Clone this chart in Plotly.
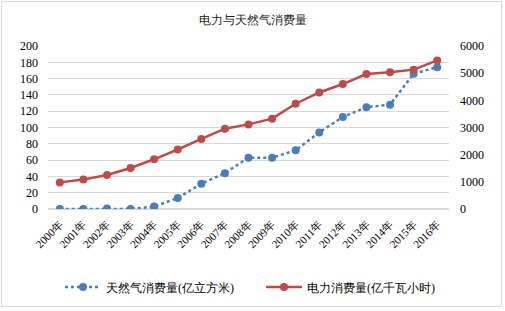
import plotly.graph_objects as go

years = [f"{y}年" for y in range(2000, 2017)]
gas = [0, 0, 0.5, 0, 3, 13.5, 31, 44, 63, 63, 72, 94, 113, 125, 128, 166, 174]
power = [980, 1090, 1250, 1510, 1830, 2190, 2580, 2955, 3115, 3325, 3875, 4290, 4600, 4970, 5030, 5130, 5470]
left_ticks = list(range(0, 201, 20))
right_ticks = list(range(0, 6001, 1000))

W, H = 505, 311
ml, mr, mt, mb = 48, 56, 46, 102
font_fam = "Times New Roman, Liberation Serif, DejaVu Serif, serif"

fig = go.Figure()
fig.add_trace(go.Scatter(
    x=years, y=gas, name="天然气消费量(亿立方米)", mode="lines+markers",
    line=dict(color="#4a7ebb", width=2.5, dash="dot"),
    marker=dict(color="#4a7ebb", size=8), yaxis="y", legend="legend"))
fig.add_trace(go.Scatter(
    x=years, y=power, name="电力消费量(亿千瓦小时)", mode="lines+markers",
    line=dict(color="#be4b48", width=2.5),
    marker=dict(color="#be4b48", size=8), yaxis="y2", legend="legend2"))

pw = W - ml - mr
ph = H - mt - mb
def px2paper_x(px):
    return (px - ml) / pw
def px2paper_y(py):
    return (H - mb - py) / ph

leg_common = dict(orientation="h", xanchor="left", xref="container",
                  y=1 - 287 / H, yanchor="middle", yref="container",
                  font=dict(size=12), itemwidth=36, bgcolor="rgba(0,0,0,0)")

fig.update_layout(
    width=W, height=H,
    margin=dict(l=ml, r=mr, t=mt, b=mb, autoexpand=False),
    paper_bgcolor="white", plot_bgcolor="white",
    font=dict(family=font_fam, size=12, color="#000000"),
    title=dict(text="电力与天然气消费量", x=0.5, xanchor="center", y=1 - 20 / H, yanchor="middle",
               font=dict(size=12, family=font_fam, color="#222222")),
    xaxis=dict(type="category", range=[-0.5, 16.5], tickangle=-45, showgrid=False,
               showline=False, ticks="", tickfont=dict(size=11), automargin=False,
               ticklabelstandoff=6),
    yaxis=dict(range=[0, 200], tickvals=left_ticks, showgrid=True, gridcolor="#d9d9d9",
               gridwidth=1, zeroline=True, zerolinecolor="#d9d9d9", ticks="", tickfont=dict(size=12),
               automargin=False, ticklabelstandoff=9),
    yaxis2=dict(range=[0, 6000], tickvals=right_ticks, overlaying="y", side="right",
                showgrid=False, zeroline=False, ticks="", tickfont=dict(size=12), automargin=False,
                ticklabelstandoff=10),
    legend=dict(x=60 / W, **leg_common),
    legend2=dict(x=261 / W, **leg_common),
    showlegend=True,
    shapes=[dict(type="rect", xref="paper", yref="paper",
                 x0=px2paper_x(1.5), x1=px2paper_x(501.5), y0=px2paper_y(1.5), y1=px2paper_y(306.5),
                 line=dict(color="#d9d9d9", width=1), fillcolor="rgba(0,0,0,0)", layer="below")],
)
fig.write_html("out.html", config={"displayModeBar": False},
               post_script="document.body.style.margin='0';document.body.style.padding='0';")
